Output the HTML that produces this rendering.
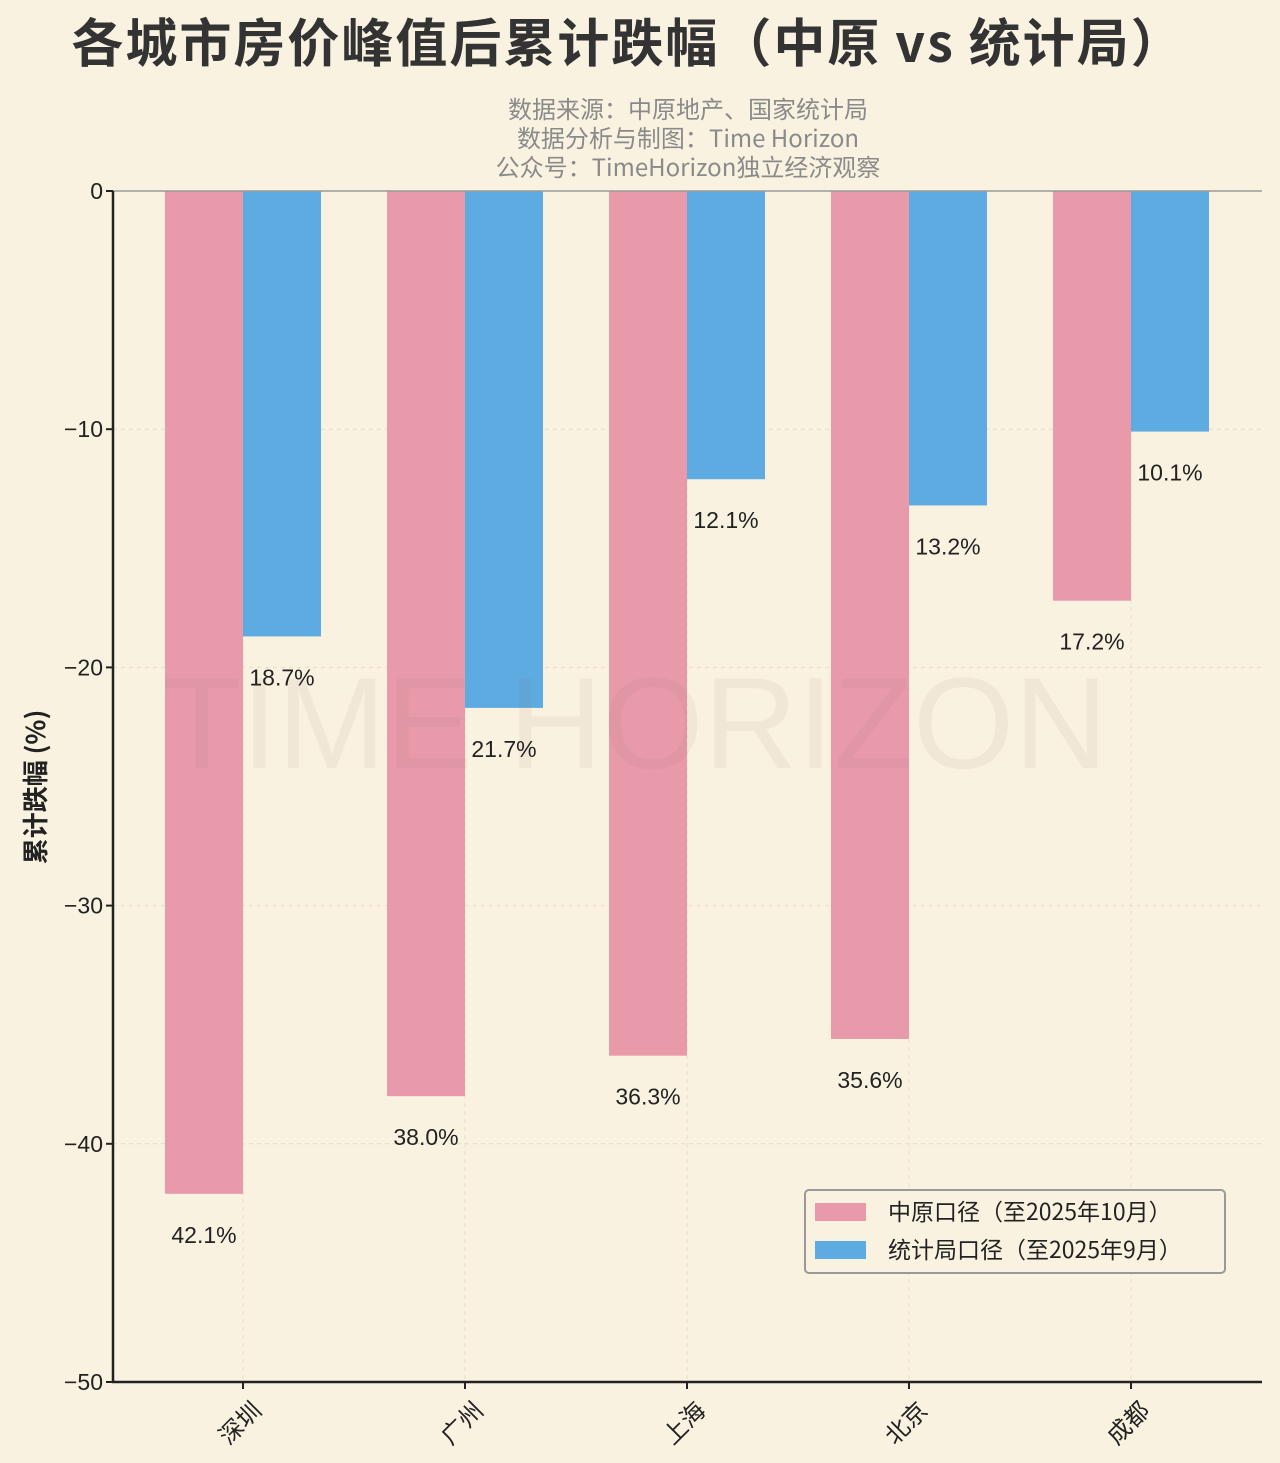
<!DOCTYPE html>
<html><head><meta charset="utf-8"><style>
body{margin:0;background:#faf2e0;}
svg{display:block;font-family:"Liberation Sans","Noto Sans CJK SC",sans-serif;}
</style></head><body>
<svg id="chart" width="1280" height="1463" xmlns="http://www.w3.org/2000/svg">
<rect width="1280" height="1463" fill="#faf2e0"/>
<text x="628" y="62" text-anchor="middle" font-size="52" font-weight="bold" fill="#333" letter-spacing="2" font-family="'Noto Sans CJK SC',sans-serif">各城市房价峰值后累计跌幅（中原 vs 统计局）</text>
<g font-size="24" fill="#8a8a8a" text-anchor="middle" font-family="'Noto Sans CJK SC',sans-serif">
<text x="688" y="118">数据来源：中原地产、国家统计局</text>
<text x="688" y="147">数据分析与制图：Time Horizon</text>
<text x="688" y="176">公众号：TimeHorizon独立经济观察</text>
</g>
<g id="grid"></g><g id="bars"></g>
<text x="635" y="768" text-anchor="middle" font-size="130" fill="#7a6a50" fill-opacity="0.07">TIME HORIZON</text>
<g id="labels"></g><g id="axes"></g>
<text transform="translate(45,787) rotate(-90)" text-anchor="middle" font-size="26" font-weight="bold" fill="#222" font-family="'Noto Sans CJK SC',sans-serif">累计跌幅 (%)</text>
<g>
<rect x="805" y="1190" width="420" height="83" rx="4" fill="#faf2e0" stroke="#999" stroke-width="2"/>
<rect x="815" y="1203" width="51" height="18" fill="#e89aab"/>
<text x="888" y="1220" font-size="23" fill="#222" font-family="'Noto Sans CJK SC',sans-serif">中原口径（至2025年10月）</text>
<rect x="815" y="1241" width="51" height="18" fill="#5dabe0"/>
<text x="888" y="1258" font-size="23" fill="#222" font-family="'Noto Sans CJK SC',sans-serif">统计局口径（至2025年9月）</text>
</g>
</svg>
<script>
const categories=["深圳","广州","上海","北京","成都"];
const centalineValues=[-42.1,-38.0,-36.3,-35.6,-17.2];
const nbsValues=[-18.7,-21.7,-12.1,-13.2,-10.1];
const yTicks=[0,-10,-20,-30,-40,-50];
const NS="http://www.w3.org/2000/svg";
const y=v=>191+(0-v)*(1382-191)/50;
const xc=i=>243+222*i;
const bw=78;
function mk(tag,attrs,parent,text){const e=document.createElementNS(NS,tag);for(const k in attrs)e.setAttribute(k,attrs[k]);if(text!==undefined)e.textContent=text;parent.appendChild(e);return e;}
const grid=document.getElementById('grid'),bars=document.getElementById('bars'),axes=document.getElementById('axes'),labels=document.getElementById('labels');
yTicks.forEach(t=>{
  if(t!==0&&t!==-50){const g=mk('line',{x1:113,x2:1262,y1:y(t),y2:y(t),stroke:'#e5dccb','stroke-dasharray':'4,4'},grid);
  
  }
  const tk=mk('line',{x1:106,x2:113,y1:y(t),y2:y(t),stroke:'#222','stroke-width':2},axes);
  
  
  const lb=mk('text',{x:103,y:y(t)+8,'text-anchor':'end','font-size':23,fill:'#222'},axes,t===0?'0':'−'+Math.abs(t));
  
  
});
categories.forEach((c,i)=>{
  const gx=mk('line',{x1:xc(i),x2:xc(i),y1:191,y2:1382,stroke:'#e5dccb','stroke-dasharray':'4,4'},grid);
  
  
  const a=centalineValues[i],b=nbsValues[i];
  const r1=mk('rect',{x:xc(i)-bw,y:y(0),width:bw,height:y(a)-y(0),fill:'#e89aab'},bars);
  
  
  const r2=mk('rect',{x:xc(i),y:y(0),width:bw,height:y(b)-y(0),fill:'#5dabe0'},bars);
  
  
  const l1=mk('text',{x:xc(i)-bw/2,y:y(a)+49,'text-anchor':'middle','font-size':23,fill:'#222'},labels,Math.abs(a).toFixed(1)+'%');
  
  
  const l2=mk('text',{x:xc(i)+bw/2,y:y(b)+49,'text-anchor':'middle','font-size':23,fill:'#222'},labels,Math.abs(b).toFixed(1)+'%');
  
  
  const xt=mk('line',{x1:xc(i),x2:xc(i),y1:1382,y2:1389,stroke:'#222','stroke-width':2},axes);
  
  
  const xl=mk('text',{transform:`translate(${xc(i)+20},${1412}) rotate(-45)`,'text-anchor':'end','font-size':24,fill:'#222','font-family':"'Noto Sans CJK SC',sans-serif"},axes,c);
  
  
});
const zeroLine=mk('line',{x1:113,x2:1262,y1:191,y2:191,stroke:'#999','stroke-width':1.5},axes);


const la=mk('line',{x1:113,x2:113,y1:191,y2:1383,stroke:'#222','stroke-width':2.5},axes);


const ba=mk('line',{x1:112,x2:1262,y1:1382,y2:1382,stroke:'#222','stroke-width':2.5},axes);


</script>
</body></html>
